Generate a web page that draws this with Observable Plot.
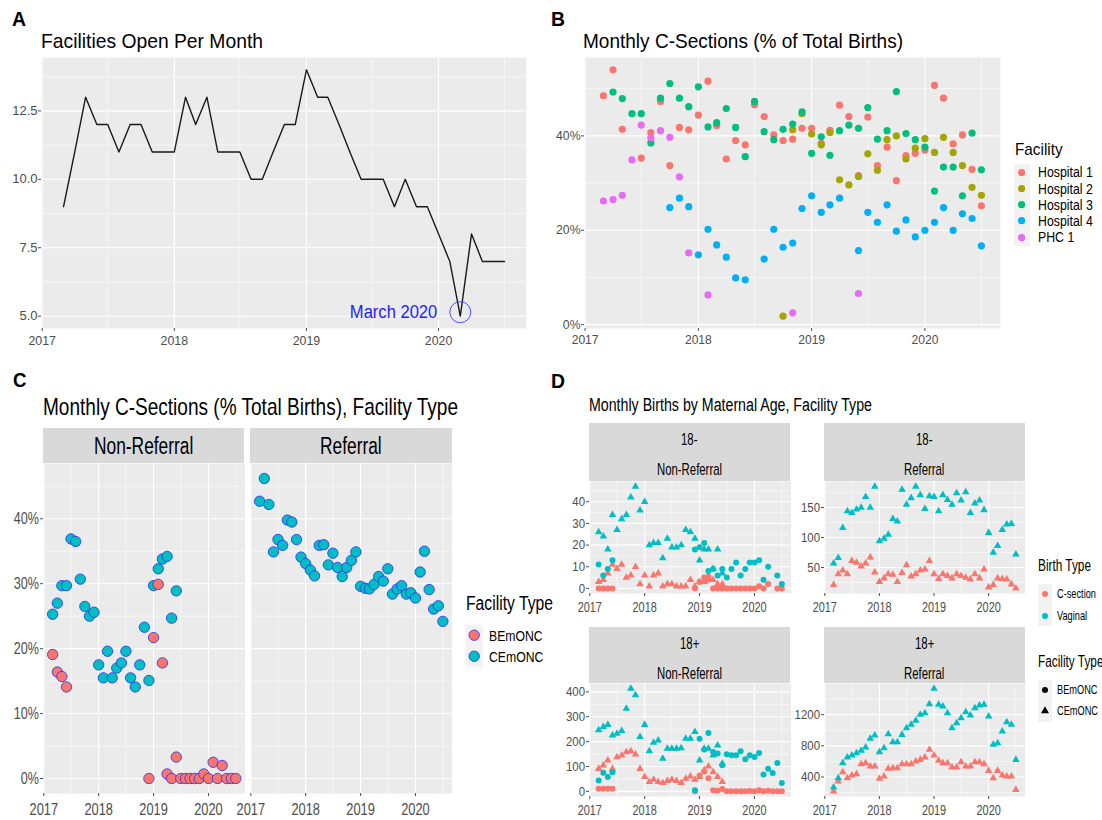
<!DOCTYPE html>
<html><head><meta charset="utf-8">
<script src="https://cdn.jsdelivr.net/npm/d3@7"></script>
<script src="https://cdn.jsdelivr.net/npm/@observablehq/plot@0.6"></script>
<style>
html,body{margin:0;padding:0;background:#fff;}
#root{position:relative;width:1102px;height:820px;overflow:hidden;background:#fff;}
</style></head><body><div id="root"></div>
<script>
// ---------------- DATA ----------------
const yearLabels = [2017, 2018, 2019, 2020];
// Panel A: facilities open per month, Mar 2017 .. Jul 2020
const facilitiesOpen = [9,11,13,12,12,11,12,12,11,11,11,13,12,13,11,11,11,10,10,11,12,12,14,13,13,12,11,10,10,10,9,10,9,9,8,7,5,8,7,7,7];
const annotationLabel = ["March 2020"];
const annotationMonth = [Date.UTC(2020, 2, 1)];
const annotationValue = [5];
const aTicks = [5, 7.5, 10, 12.5];
const aMinor = [6.25, 8.75, 11.25, 13.75];

// Panel B: monthly C-sections % by facility
const facilityNames = ["Hospital 1", "Hospital 2", "Hospital 3", "Hospital 4", "PHC 1"];
const hospital1 = [48.5,54.0,41.4,null,35.3,40.7,47.3,33.7,41.8,41.3,44.4,51.6,42.2,35.1,39.0,38.1,46.6,44.1,40.2,39.0,39.3,41.6,41.6,38.4,41.2,46.5,44.1,31.6,44.0,33.7,37.6,30.5,35.8,36.3,37.0,50.7,48.0,38.3,40.2,32.9,25.2];
const hospital2 = [null,null,null,null,null,null,null,null,null,null,null,null,null,null,null,null,null,null,null,1.8,41.3,44.7,40.4,38.1,40.7,30.7,29.6,31.4,36.2,32.7,39.2,40.0,35.1,37.4,39.4,36.5,39.7,36.5,33.7,29.1,27.4];
const hospital3 = [null,49.3,47.9,44.7,44.7,38.5,48.0,51.1,48.0,46.2,50.4,41.9,42.8,45.8,41.8,35.6,47.3,40.9,39.2,41.4,42.5,45.1,36.3,39.8,35.9,41.1,42.3,41.6,46.0,39.3,41.1,49.4,40.5,39.2,37.6,28.3,33.4,33.4,27.3,40.6,32.8];
const hospital4 = [null,null,null,null,null,null,null,24.8,26.8,25.0,14.8,20.2,16.9,14.3,9.9,9.5,null,13.9,20.2,16.4,17.3,24.6,27.3,23.8,25.4,26.8,null,15.7,23.8,21.7,25.4,19.8,22.2,18.6,20.0,21.7,24.8,20.0,23.5,22.5,16.7];
const phc1 = [26.2,26.5,27.4,34.9,42.3,39.6,41.1,39.7,31.3,15.2,null,6.3,null,null,null,null,null,null,null,null,2.5,null,null,null,null,null,null,6.6,null,null,null,null,null,null,null,null,null,null,null,null,null];
const bTicks = [0, 20, 40];
const bMinor = [10, 30, 50];

// Panel C: C-section % by facility type
const referralTypes = ["Non-Referral", "Referral"];
const facilityTypes = ["BEmONC", "CEmONC"];
const nonRefCEmONC = [25.3,27.0,29.7,29.7,36.9,36.5,30.7,26.5,25.0,25.6,17.5,15.5,19.6,15.5,17.0,17.8,19.6,15.5,14.1,17.5,23.3,15.1,29.7,32.3,33.8,34.2,24.7,28.9,null,null,null,null,null,null,null,null,null,null,null,null,null];
const nonRefBEmONC = [19.1,16.4,15.7,14.1,null,null,null,null,null,null,null,null,null,null,null,null,null,null,null,null,null,0,21.7,29.9,17.8,0.7,0,3.3,0,0,0,0,0,0.7,0,2.5,0,2.0,0,0,0];
const refCEmONC = [42.7,46.2,42.2,34.9,36.8,35.9,39.8,39.5,36.8,34.1,33.1,32.1,31.2,35.9,36.0,32.9,34.7,32.5,31.1,32.5,33.6,34.9,29.6,29.3,29.2,29.9,31.1,30.4,32.3,28.4,29.2,29.7,28.4,28.6,27.8,31.8,35.0,29.1,26.1,26.6,24.2];
const cTicks = [0, 10, 20, 30, 40];
const cMinor = [5, 15, 25, 35, 45];

// Panel D: monthly births by maternal age, facility type
const birthTypes = ["C-section", "Vaginal"];
const ageGroups = ["18-", "18+"];
const u18NrVagC = [26,24,18,34,27,32,34,42,47,36,40,20,21,21,14,23,19,19,20,27,26,23,13,18,18,9,18,7,null,null,null,null,null,null,null,null,null,null,null,null,null];
const u18NrVagB = [11,6,9,13,null,null,null,null,null,null,null,null,null,null,null,null,null,null,null,null,null,18,19,21,8,9,6,9,5,9,12,6,9,12,12,13,4,10,null,6,2];
const u18NrCsC = [3,4,7,11,9,11,5,6,10,2,6,1,6,7,1,2,2,1,1,1,4,1,3,3,6,4,2,2,null,null,null,null,null,null,null,null,null,null,null,null,null];
const u18NrCsB = [0,0,0,0,null,null,null,null,null,null,null,null,null,null,null,null,null,null,null,null,null,0,3,5,4,0,0,0,0,0,0,0,0,0,0,1,0,2,null,0,0];
const u18RefVagC = [57,66,116,144,141,147,150,168,150,185,94,98,105,131,127,180,155,166,185,171,148,169,168,144,171,163,155,174,162,176,141,157,162,146,108,75,86,113,122,123,72];
const u18RefCsC = [21,39,45,39,61,58,52,57,67,42,26,32,39,38,26,41,54,35,39,45,47,61,39,31,39,36,32,39,36,33,30,39,32,47,17,21,32,31,30,22,15];
const o18NrVagC = [246,259,268,225,232,243,333,413,387,219,268,162,196,205,132,172,172,172,174,212,212,239,125,172,172,145,185,112,null,null,null,null,null,null,null,null,null,null,null,null,null];
const o18NrVagB = [44,75,58,77,null,null,null,null,null,null,null,null,null,null,null,null,null,null,null,null,null,4,212,168,235,158,152,105,149,145,145,161,129,145,138,154,68,91,74,114,34];
const o18NrCsC = [91,105,125,91,138,145,158,162,149,91,58,38,47,38,34,42,47,42,34,51,60,47,58,85,101,78,58,38,null,null,null,null,null,null,null,null,null,null,null,null,null];
const o18NrCsB = [11,11,11,11,null,null,null,null,null,null,null,null,null,null,null,null,null,null,null,null,null,0,64,80,53,4,2,10,0,0,0,0,0,1,0,4,0,2,0,0,0];
const o18RefVagC = [267,387,580,652,678,708,738,781,892,935,721,772,952,849,849,943,1029,1072,1123,1200,1221,1337,1534,1328,1307,1221,1029,1093,1157,1234,1191,1285,1320,1328,1179,815,836,986,1106,1072,622];
const o18RefCsC = [216,344,464,387,421,438,567,580,537,537,379,409,507,516,516,567,567,567,601,622,652,751,678,610,580,580,524,524,593,537,537,593,593,567,481,387,481,421,409,409,237];
const dTicksU18Nr = [0,10,20,30,40], dMinorU18Nr = [5,15,25,35,45];
const dTicksU18Ref = [50,100,150], dMinorU18Ref = [25,75,125,175];
const dTicksO18Nr = [0,100,200,300,400], dMinorO18Nr = [50,150,250,350];
const dTicksO18Ref = [400,800,1200], dMinorO18Ref = [200,600,1000,1400];

// ---------------- STYLE ----------------
const FONT = '"Liberation Sans", Arial, Helvetica, sans-serif';
const facilityColors = ["#F8766D", "#A3A500", "#00BF7D", "#00B0F6", "#E76BF3"];
const RED = "#F8766D", TEAL = "#00BFC4";
const root = document.getElementById("root");

const firstMonth = Date.UTC(2017, 2, 1), lastMonth = Date.UTC(2020, 6, 1);
const months = d3.utcMonth.range(new Date(firstMonth), new Date(Date.UTC(2020, 7, 1)));
const pad = (lastMonth - firstMonth) * 0.05;
const xDomain = [new Date(firstMonth - pad), new Date(lastMonth + pad)];
const yearTicks = yearLabels.map(y => new Date(Date.UTC(y, 0, 1)));
const midYearTicks = yearLabels.map(y => new Date(Date.UTC(y, 6, 1)));

function rows(values) {
  return values.map((v, i) => ({date: months[i], value: v})).filter(d => d.value !== null);
}
function expand(arrs) {
  const all = arrs.flat().filter(v => v !== null);
  const lo = d3.min(all), hi = d3.max(all), p = (hi - lo) * 0.05;
  return [lo - p, hi + p];
}
function addText(str, o) {
  const d = document.createElement("div");
  d.textContent = str;
  d.style.cssText = `position:absolute;white-space:nowrap;font-family:${FONT};font-size:${o.size}px;line-height:${o.size}px;font-weight:${o.weight || "normal"};color:${o.color || "#000"};transform-origin:0 0;left:0;top:0;`;
  root.appendChild(d);
  const w = d.getBoundingClientRect().width;
  const s = o.width ? o.width / w : (o.scale || 1);
  const left = o.cx !== undefined ? o.cx - w * s / 2 : o.left;
  d.style.left = left + "px";
  d.style.top = (o.baseline - 0.8465 * o.size) + "px";
  d.style.transform = `scaleX(${s})`;
  return s;
}
function addRect(left, top, w, h, fill) {
  const d = document.createElement("div");
  d.style.cssText = `position:absolute;left:${left}px;top:${top}px;width:${w}px;height:${h}px;background:${fill};`;
  root.appendChild(d);
}
function addShape(cx, cy, o) {
  const size = 2 * (o.r + 3);
  const svg = d3.create("svg").attr("width", size).attr("height", size)
    .style("position", "absolute").style("left", (cx - size / 2) + "px").style("top", (cy - size / 2) + "px").style("overflow", "visible");
  const path = d3.symbol(o.shape === "triangle" ? d3.symbolTriangle : d3.symbolCircle, Math.PI * o.r * o.r)();
  svg.append("path").attr("d", path).attr("transform", `translate(${size / 2},${size / 2})`)
    .attr("fill", o.fill).attr("stroke", o.stroke || "none").attr("stroke-width", o.strokeWidth || 0);
  root.appendChild(svg.node());
}
function scaleText(t, s) {
  const x = parseFloat(t.getAttribute("x")) || 0;
  const tr = t.getAttribute("transform") || "";
  t.setAttribute("transform", `${tr} translate(${x},0) scale(${s},1) translate(${-x},0)`);
}
function condense(svg, axis, s) {
  if (!s || s === 1) return;
  svg.querySelectorAll(`g[aria-label="${axis}-axis tick label"] text`).forEach(t => scaleText(t, s));
}
function panel(o) {
  const ml = 60, mr = 10, mt = 10, mb = 40;
  const w = o.x1 - o.x0, h = o.y1 - o.y0;
  const inDom = v => v >= o.yDomain[0] && v <= o.yDomain[1];
  const marks = [
    Plot.frame({fill: "#EBEBEB", stroke: "none"}),
    Plot.ruleY(o.yMinor.filter(inDom), {stroke: "white", strokeWidth: 0.55}),
    Plot.ruleX(midYearTicks, {stroke: "white", strokeWidth: 0.55}),
    Plot.ruleY(o.yTicks.filter(inDom), {stroke: "white", strokeWidth: 1.1}),
    Plot.ruleX(yearTicks, {stroke: "white", strokeWidth: 1.1}),
    Plot.axisX(yearTicks, {tickFormat: d3.utcFormat("%Y"), tickSize: 3, tickPadding: o.xPad, fontSize: o.fontX, label: null})
  ];
  if (o.showY !== false) marks.push(Plot.axisY(o.yTicks, {tickFormat: o.yFmt, tickSize: 3, tickPadding: o.yPad ?? 1.5, fontSize: o.fontY, label: null}));
  const yOpts = {domain: o.yDomain, label: null};
  if (o.showY === false) yOpts.axis = null;
  const svg = Plot.plot({
    width: w + ml + mr, height: h + mt + mb,
    marginLeft: ml, marginRight: mr, marginTop: mt, marginBottom: mb,
    style: {fontFamily: FONT, color: "#4D4D4D", background: "none", overflow: "visible"},
    x: {type: "utc", domain: xDomain, label: null},
    y: yOpts,
    marks: marks.concat(o.marks)
  });
  svg.style.position = "absolute";
  svg.style.left = (o.x0 - ml) + "px";
  svg.style.top = (o.y0 - mt) + "px";
  root.appendChild(svg);
  condense(svg, "x", o.condX);
  condense(svg, "y", o.condY);
  return svg;
}

// ---------------- PANEL A ----------------
addText("A", {left: 12, baseline: 25.5, size: 21, weight: "bold", width: 14});
addText("Facilities Open Per Month", {left: 41.3, baseline: 48, size: 21, width: 222});
const annotation = annotationLabel.map((l, i) => ({label: l, date: new Date(annotationMonth[i]), value: annotationValue[i]}));
const svgA = panel({
  x0: 41.3, x1: 526.3, y0: 57, y1: 328,
  yDomain: expand([facilitiesOpen]), yTicks: aTicks, yMinor: aMinor, yFmt: d3.format(".1f"),
  fontX: 13, fontY: 13, condX: 0.95, condY: 1, xPad: 4, yPad: 1,
  marks: [
    Plot.line(rows(facilitiesOpen), {x: "date", y: "value", stroke: "#1A1A1A", strokeWidth: 1.4}),
    Plot.dot(annotation, {x: "date", y: "value", r: 10.5, stroke: "#3B3BFF", fill: "none", strokeWidth: 0.9, dy: -4}),
    Plot.text(annotation, {x: "date", y: "value", text: "label", textAnchor: "end", dx: -23, dy: -4, fill: "#2222FF", fontSize: 19})
  ]
});
svgA.querySelectorAll('g[aria-label="text"] text').forEach(t => scaleText(t, 87.5 / t.getComputedTextLength()));

// ---------------- PANEL B ----------------
addText("B", {left: 551, baseline: 25.5, size: 21, weight: "bold", width: 14});
addText("Monthly C-Sections (% of Total Births)", {left: 583, baseline: 48, size: 21, width: 320});
const bSeries = [hospital1, hospital2, hospital3, hospital4, phc1];
panel({
  x0: 583.7, x1: 999.5, y0: 57, y1: 328,
  yDomain: expand(bSeries), yTicks: bTicks, yMinor: bMinor, yFmt: d => d + "%",
  fontX: 13, fontY: 13, condX: 0.93, condY: 0.94, xPad: 3, yPad: 1,
  marks: bSeries.map((s, i) => Plot.dot(rows(s), {x: "date", y: "value", fill: facilityColors[i], r: 3.6}))
});
addText("Facility", {left: 1015, baseline: 155, size: 17, width: 47.6});
addRect(1013.5, 164.2, 16.3, 81.5, "#F2F2F2");
const bLegScale = addText(facilityNames[0], {left: 1037.5, baseline: 172.3 + 5, size: 14, width: 54.8});
facilityNames.forEach((n, i) => {
  const cy = 172.3 + i * 16.25;
  addShape(1021.6, cy, {r: 3.6, fill: facilityColors[i]});
  if (i > 0) addText(n, {left: 1037.5, baseline: cy + 5, size: 14, scale: bLegScale});
});

// ---------------- PANEL C ----------------
addText("C", {left: 12.5, baseline: 387, size: 21, weight: "bold", width: 13.5});
addText("Monthly C-Sections (% Total Births), Facility Type", {left: 43, baseline: 415, size: 24, width: 415});
const cDomain = expand([nonRefCEmONC, nonRefBEmONC, refCEmONC]);
const cPanels = [
  {x0: 42.9, x1: 244.4, showY: true, series: [[nonRefCEmONC, TEAL], [nonRefBEmONC, RED]]},
  {x0: 250, x1: 451.5, showY: false, series: [[refCEmONC, TEAL]]}
];
let cStripScale = null;
cPanels.forEach((p, k) => {
  addRect(p.x0, 427.7, p.x1 - p.x0, 35, "#D9D9D9");
  const cx = (p.x0 + p.x1) / 2;
  if (k === 0) cStripScale = addText(referralTypes[k], {cx, baseline: 454.5, size: 23, width: 99.3});
  else addText(referralTypes[k], {cx, baseline: 454.5, size: 23, scale: cStripScale});
  panel({
    x0: p.x0, x1: p.x1, y0: 463, y1: 793, showY: p.showY,
    yDomain: cDomain, yTicks: cTicks, yMinor: cMinor, yFmt: d => d + "%",
    fontX: 16, fontY: 17, condX: 0.8, condY: 0.74, xPad: 7, yPad: 1.5,
    marks: p.series.map(([s, c]) => Plot.dot(rows(s), {x: "date", y: "value", fill: c, stroke: "#2B2BF0", strokeWidth: 0.8, r: 5.2}))
  });
});
addText("Facility Type", {left: 466, baseline: 610, size: 20, width: 87});
addRect(466, 624.5, 16.5, 42, "#F2F2F2");
const cLegScale = addText(facilityTypes[0], {left: 488.6, baseline: 635 + 5.3, size: 15, width: 53.6});
addText(facilityTypes[1], {left: 488.6, baseline: 656 + 5.3, size: 15, scale: cLegScale});
addShape(474.2, 635, {r: 5.2, fill: RED, stroke: "#2B2BF0", strokeWidth: 0.8});
addShape(474.2, 656, {r: 5.2, fill: TEAL, stroke: "#2B2BF0", strokeWidth: 0.8});

// ---------------- PANEL D ----------------
addText("D", {left: 551, baseline: 388, size: 21, weight: "bold", width: 14});
addText("Monthly Births by Maternal Age, Facility Type", {left: 588.7, baseline: 411.7, size: 18, width: 283});
const dFacets = [
  {age: ageGroups[0], ref: referralTypes[0], x0: 588.5, x1: 790, y0: 481, y1: 593, strip: 423, ticks: dTicksU18Nr, minor: dMinorU18Nr,
   series: [[u18NrCsB, RED, "circle"], [u18NrCsC, RED, "triangle"], [u18NrVagB, TEAL, "circle"], [u18NrVagC, TEAL, "triangle"]]},
  {age: ageGroups[0], ref: referralTypes[1], x0: 824, x1: 1024.5, y0: 481, y1: 593, strip: 423, ticks: dTicksU18Ref, minor: dMinorU18Ref,
   series: [[u18RefCsC, RED, "triangle"], [u18RefVagC, TEAL, "triangle"]]},
  {age: ageGroups[1], ref: referralTypes[0], x0: 588.5, x1: 790, y0: 683, y1: 796, strip: 627, ticks: dTicksO18Nr, minor: dMinorO18Nr,
   series: [[o18NrCsB, RED, "circle"], [o18NrCsC, RED, "triangle"], [o18NrVagB, TEAL, "circle"], [o18NrVagC, TEAL, "triangle"]]},
  {age: ageGroups[1], ref: referralTypes[1], x0: 824, x1: 1024.5, y0: 683, y1: 796, strip: 627, ticks: dTicksO18Ref, minor: dMinorO18Ref,
   series: [[o18RefCsC, RED, "triangle"], [o18RefVagC, TEAL, "triangle"]]}
];
let dStripScale = null;
dFacets.forEach((f, k) => {
  addRect(f.x0, f.strip, f.x1 - f.x0, f.y0 - f.strip, "#D9D9D9");
  const cx = (f.x0 + f.x1) / 2;
  if (dStripScale === null) {
    dStripScale = addText(f.ref, {cx, baseline: f.strip + 52, size: 17, width: 65});
  } else {
    addText(f.ref, {cx, baseline: f.strip + 52, size: 17, scale: dStripScale});
  }
  addText(f.age, {cx, baseline: f.strip + 22.5, size: 17, scale: dStripScale});
  panel({
    x0: f.x0, x1: f.x1, y0: f.y0, y1: f.y1,
    yDomain: expand(f.series.map(s => s[0])), yTicks: f.ticks, yMinor: f.minor, yFmt: d3.format("d"),
    fontX: 14, fontY: 13, condX: 0.78, condY: 0.88, xPad: 6, yPad: 1.5,
    marks: f.series.map(([s, c, sym]) => Plot.dot(rows(s), {x: "date", y: "value", fill: c, symbol: sym, r: sym === "circle" ? 3 : 2.8}))
  });
});
// Legends D
const dTitleScale = addText("Birth Type", {left: 1038, baseline: 571.7, size: 16, width: 53});
addRect(1038, 583.5, 14, 42, "#F2F2F2");
const dLegScale = addText(birthTypes[0], {left: 1057, baseline: 594 + 4.7, size: 13.5, width: 39});
addText(birthTypes[1], {left: 1057, baseline: 615.5 + 4.7, size: 13.5, scale: dLegScale});
addShape(1045, 594, {r: 3, fill: RED});
addShape(1045, 615.5, {r: 3, fill: TEAL});
addText("Facility Type", {left: 1038, baseline: 668, size: 16, scale: dTitleScale});
addRect(1038, 679.5, 14, 42, "#F2F2F2");
addText(facilityTypes[0], {left: 1057, baseline: 690 + 4.7, size: 13.5, scale: dLegScale});
addText(facilityTypes[1], {left: 1057, baseline: 711 + 4.7, size: 13.5, scale: dLegScale});
addShape(1045, 690, {r: 3, fill: "#000", shape: "circle"});
addShape(1045, 711, {r: 3, fill: "#000", shape: "triangle"});
</script></body></html>
